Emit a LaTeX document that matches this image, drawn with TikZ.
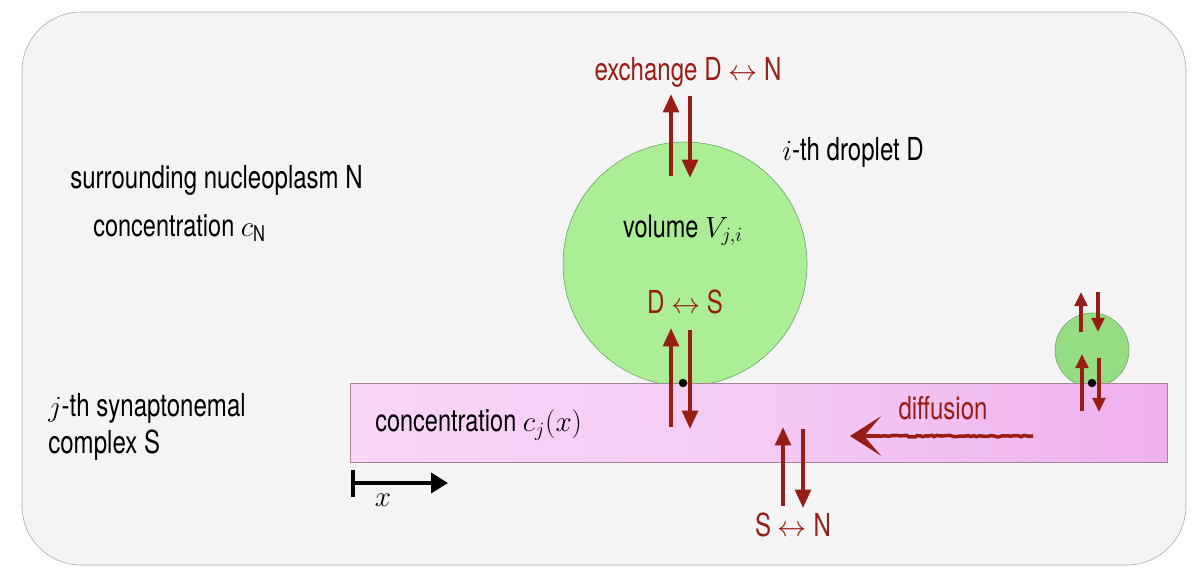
\documentclass[tikz,border=0pt]{standalone}
\usepackage{fontspec}
\setmainfont{TeX Gyre Heros}[FakeStretch=0.76]
\usetikzlibrary{arrows.meta,decorations.pathmorphing}
\definecolor{dred}{RGB}{150,30,20}
\definecolor{bgg}{RGB}{244,244,244}
\definecolor{cgreen}{RGB}{172,238,150}
\definecolor{cgreen2}{RGB}{150,220,130}
\definecolor{pinkL}{RGB}{248,214,246}
\definecolor{pinkR}{RGB}{238,176,238}
\begin{document}
\begin{tikzpicture}[x=0.025cm,y=-0.025cm,
  txt/.style={font=\fontsize{22.5}{24}\selectfont,inner sep=0},
  stxt/.style={font=\fontsize{22}{24}\selectfont,inner sep=0},
  rtxt/.style={txt,text=dred},
  ar/.style={dred,line width=2.8pt,-{Triangle[length=13pt,width=11pt]}},
  sar/.style={dred,line width=2.4pt,-{Triangle[length=10pt,width=9pt]}},
  dot/.style={circle,fill=black,inner sep=0,minimum size=6pt}]
\useasboundingbox (0,0) rectangle (1200,585);
\draw[gray!70,fill=bgg,rounded corners=42pt] (22,12) rectangle (1186,565);
\node[circle,draw=green!40!black!60,fill=cgreen,minimum size=244*0.025cm,inner sep=0] (big) at (685,264) {};
\node[circle,draw=green!40!black!60,fill=cgreen2,minimum size=74*0.025cm,inner sep=0] (small) at (1092,350) {};
\shade[left color=pinkL,right color=pinkR,middle color=pinkL!70!pinkR] (350,383) rectangle (1167,462);
\draw[gray!80!magenta] (350,383) rectangle (1167,462);
\node[dot] (d1) at (683,383) {};
\node[dot] (d2) at (1092,383) {};
% texts
\node[rtxt] (ex) at (688,72) {exchange D $\leftrightarrow$ N};
\node[txt,anchor=west] (drop) at (782,152) {$i$-th droplet D};
\node[txt,anchor=west] (nuc) at (70,180) {surrounding nucleoplasm N};
\node[stxt,anchor=west] (cn) at (93,228) {concentration $c_{\mathrm{N}}$};
\node[stxt] (vol) at (683,230) {volume $V_{j,i}$};
\node[rtxt] (ds) at (685,302) {D $\leftrightarrow$ S};
\node[txt,anchor=west] (sc1) at (48,408) {$j$-th synaptonemal};
\node[txt,anchor=west] (sc2) at (48,445) {complex S};
\node[stxt,anchor=west] (cj) at (375,425) {concentration $c_j(x)$};
\node[rtxt] (dif) at (943,408) {diffusion};
\node[rtxt] (sn) at (793,525) {S $\leftrightarrow$ N};
% coordinates
\coordinate (a1s) at (671,176); \coordinate (a1e) at (671,94);
\coordinate (b1s) at (690,96); \coordinate (b1e) at (690,178);
\coordinate (a2s) at (671,427); \coordinate (a2e) at (671,328);
\coordinate (b2s) at (690,330); \coordinate (b2e) at (690,429);
\coordinate (a3s) at (783,506); \coordinate (a3e) at (783,427);
\coordinate (b3s) at (803,429); \coordinate (b3e) at (803,508);
\coordinate (a4s) at (1081,332); \coordinate (a4e) at (1081,292);
\coordinate (b4s) at (1098,292); \coordinate (b4e) at (1098,332);
\coordinate (a5s) at (1082,411); \coordinate (a5e) at (1082,354);
\coordinate (b5s) at (1099,358); \coordinate (b5e) at (1099,412);
\foreach \p in {1,2,3} {\draw[ar] (a\p s) -- (a\p e); \draw[ar] (b\p s) -- (b\p e);}
\foreach \p in {4,5} {\draw[sar] (a\p s) -- (a\p e); \draw[sar] (b\p s) -- (b\p e);}
\coordinate (fs) at (1033,436); \coordinate (fe) at (850,436);
\draw[dred,line width=2.5pt,decorate,decoration={random steps,segment length=2pt,amplitude=0.6pt}] (fs) -- (875,436);
\draw[dred,line width=2.5pt,-{Stealth[length=22pt,width=28pt,inset=12pt]}] (880,436) -- (fe);
% x scale bar
\coordinate (xs) at (353,483); \coordinate (xe) at (448,483);
\draw[line width=3pt,-{Triangle[length=12pt,width=14pt]}] (xs) -- (xe);
\draw[line width=3pt] (353,470) -- (353,497);
\node[txt] (xl) at (383,500) {$x$};
\end{tikzpicture}
\end{document}
